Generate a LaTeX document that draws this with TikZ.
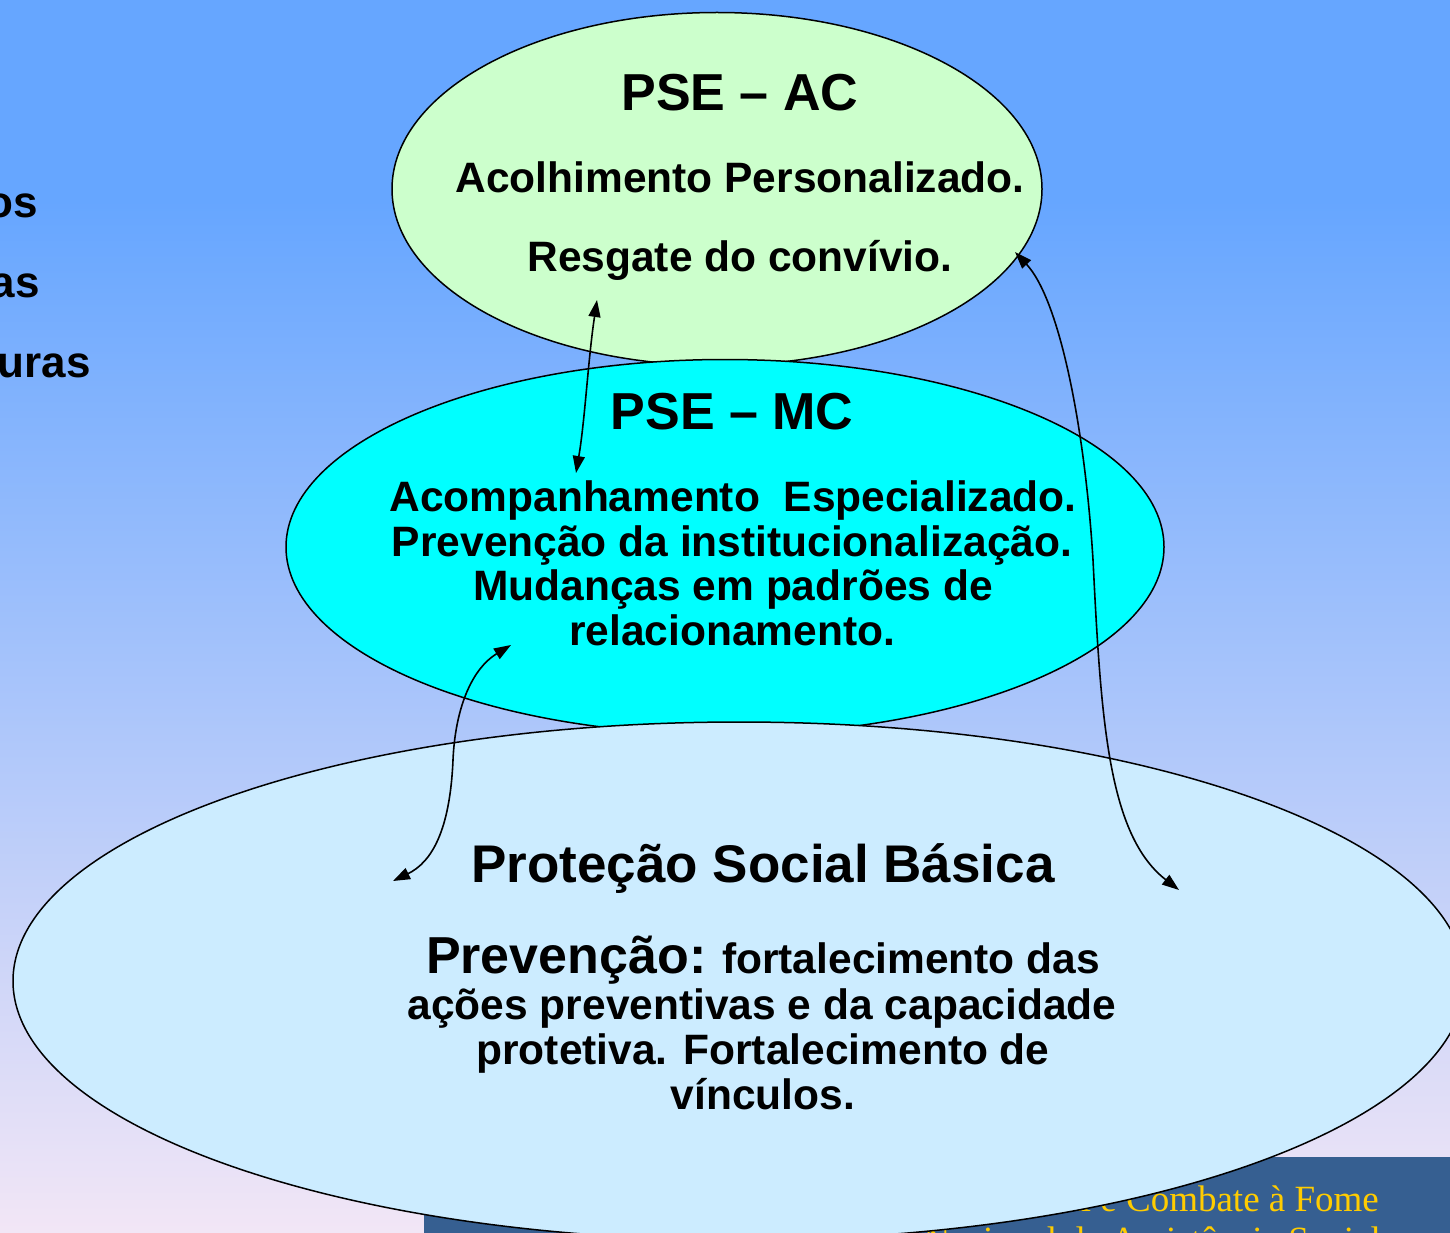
\documentclass[tikz,border=0pt]{standalone}
\usepackage{fontspec}
\setmainfont{Liberation Sans}
\newfontfamily\orgfont{Liberation Serif}
\usetikzlibrary{shapes.geometric,arrows.meta}
\definecolor{bgtop}{RGB}{102,166,255}
\definecolor{bgbot}{RGB}{242,230,246}
\definecolor{acfill}{RGB}{204,255,204}
\definecolor{mcfill}{RGB}{0,255,255}
\definecolor{pbfill}{RGB}{204,236,255}
\definecolor{orgblue}{RGB}{54,95,145}
\definecolor{orgyellow}{RGB}{255,204,0}
\tikzset{
  ell/.style={ellipse, draw=black, line width=1.5pt, inner sep=0pt},
  big/.style={font=\fontsize{52}{60}\selectfont\bfseries, anchor=base, inner sep=0pt},
  txt/.style={font=\fontsize{42.5}{50}\selectfont\bfseries, anchor=base, inner sep=0pt},
  frag/.style={font=\fontsize{44}{50}\selectfont\bfseries, anchor=base east, inner sep=0pt},
  orgtxt/.style={font=\fontsize{37}{40}\selectfont\orgfont, text=orgyellow, anchor=base east, inner sep=0pt},
  link/.style={line width=1.6pt, {Triangle[length=17pt,width=12pt]}-{Triangle[length=17pt,width=12pt]}}
}
\begin{document}
\begin{tikzpicture}[x=1pt,y=-1pt]
\useasboundingbox (0,0) rectangle (1450,1233);
\begin{scope}
\clip (0,0) rectangle (1450,1233);
\fill[bgtop] (0,0) rectangle (1450,201);
\shade[top color=bgtop, bottom color=bgbot] (0,200) rectangle (1450,1233);

% cut-off texts on the left
\node[frag] (f1) at (38,218) {os};
\node[frag] (f2) at (40,297) {as};
\node[frag] (f3) at (91,377) {uras};

% PSE - AC
\node[ell, fill=acfill, minimum width=650pt, minimum height=353pt] (ac) at (717,189) {};
\node[big] (actitle) at (740,111) {PSE – AC};
\node[txt] (ac1) at (740,193) {Acolhimento Personalizado.};
\node[txt] (ac2) at (740,272) {Resgate do convívio.};

% PSE - MC
\node[ell, fill=mcfill, minimum width=878pt, minimum height=375pt] (mc) at (725,547) {};
\node[big] (mctitle) at (732,429) {PSE – MC};
\node[txt] (mc1) at (733,511) {Acompanhamento\ \ Especializado.};
\node[txt] (mc2) at (732,556) {Prevenção da institucionalização.};
\node[txt] (mc3) at (733,600) {Mudanças em padrões de};
\node[txt] (mc4) at (732,645) {relacionamento.};

% organisation banner
\node[fill=orgblue, inner sep=0pt, minimum width=1030pt, minimum height=80pt, anchor=north west] (org) at (424,1157) {};
\node[orgtxt] (org1) at (1379,1211) {Ministério do Desenvolvimento Social e Combate à Fome};
\node[orgtxt] (org2) at (1381,1252) {Secretaria Nacional de Assistência Social};

% Protecao Social Basica
\node[ell, fill=pbfill, minimum width=1452pt, minimum height=518pt] (pb) at (739,981) {};
\node[big, font=\fontsize{53}{60}\selectfont\bfseries] (pbtitle) at (763,882) {Proteção Social Básica};
\node[txt] (pb1) at (763,973) {{\fontsize{52}{60}\selectfont Prevenção:} fortalecimento das};
\node[txt] (pb2) at (762,1019) {ações preventivas e da capacidade};
\node[txt] (pb3) at (763,1064) {protetiva. Fortalecimento de};
\node[txt] (pb4) at (763,1109) {vínculos.};

% connectors
\coordinate (a1s) at (597,300);
\coordinate (a1e) at (576,473);
\coordinate (a2s) at (511,645);
\coordinate (a2e) at (393,881);
\coordinate (a3s) at (1015,252);
\coordinate (a3e) at (1179,890);
\draw[link] (a1s) .. controls (588,360) and (585,420) .. (a1e);
\draw[link] (a2s) .. controls (470,670) and (455,712) .. (453,760)
               .. controls (450,830) and (432,862) .. (a2e);
\draw[link] (a3s) .. controls (1060,300) and (1085,430) .. (1093,560)
               .. controls (1101,720) and (1108,835) .. (a3e);
\end{scope}
\end{tikzpicture}
\end{document}
